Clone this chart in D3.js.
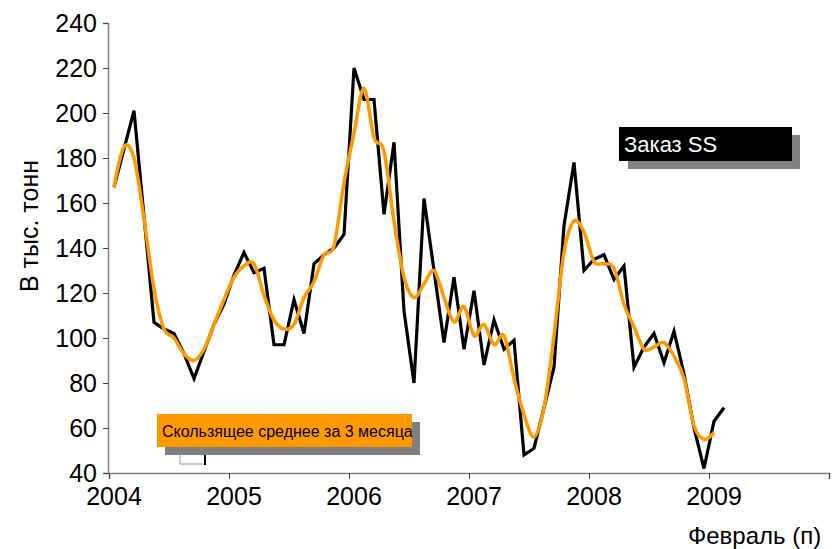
<!DOCTYPE html>
<html>
<head>
<meta charset="utf-8">
<script src="https://cdn.jsdelivr.net/npm/d3@7"></script>
<style>
  body { margin: 0; background: #fff; }
  svg { display: block; font-family: "Liberation Sans", Arial, sans-serif; }
</style>
</head>
<body>
<div id="chart"></div>
<script>
// monthly orders, Jan 2004 .. Feb 2009
const startYear = 2004;
const orders = [
  167, 184, 201, 154, 107, 104, 102, 93, 82, 94, 106, 115,
  128, 138, 129, 131, 97, 97, 117, 102, 133, 137, 140, 146,
  220, 206, 206, 155, 187, 112, 80, 162, 130, 98, 127, 95,
  121, 88, 108, 95, 99, 48, 51, 69, 87, 150, 178, 130,
  135, 137, 126, 132, 87, 96, 102, 89, 103, 84, 60, 42,
  63, 69
];
// 3-month moving average, Jan 2004 .. Jan 2009
const movingAvg = [
  167, 185, 180, 153, 122, 104, 100, 93, 90, 95, 106, 117,
  127, 132, 133, 119, 108, 104, 106, 118, 125, 137, 141, 169,
  191, 211, 189, 183, 152, 127, 118, 124, 130, 118, 107, 114,
  101, 106, 97, 101, 82, 66, 56, 69, 101, 138, 152, 147,
  134, 133, 131, 115, 105, 95, 96, 98, 92, 82, 61, 55,
  58
];
const yearTicks = [2004, 2005, 2006, 2007, 2008, 2009, 2010];
const yearLabels = ['2004', '2005', '2006', '2007', '2008', '2009'];
const yTicks = [40, 60, 80, 100, 120, 140, 160, 180, 200, 220, 240];

const width = 836;
const height = 549;

const x = d3.scaleLinear().domain([2004, 2010]).range([109, 829]);
const y = d3.scaleLinear().domain([40, 240]).range([473, 23]);
const monthPos = i => x(startYear + (i + 0.5) / 12);

const svg = d3.select('#chart').append('svg')
  .attr('width', width)
  .attr('height', height);

// axes
const yAxis = svg.append('g')
  .attr('transform', 'translate(108,0)')
  .call(d3.axisLeft(y).tickValues(yTicks).tickSize(5).tickPadding(6));
yAxis.select('.domain').attr('stroke', '#808080').attr('stroke-width', 1.5);
yAxis.selectAll('.tick line').attr('stroke', '#404040');
yAxis.selectAll('.tick text')
  .attr('fill', '#000')
  .style('font-size', '25px');

const xAxis = svg.append('g')
  .attr('transform', 'translate(0,473)')
  .call(d3.axisBottom(x).tickValues(yearTicks).tickSize(6).tickFormat(''));
xAxis.select('.domain').attr('stroke', '#808080').attr('stroke-width', 1.5);
xAxis.selectAll('.tick line').attr('stroke', '#404040');

svg.append('g').selectAll('text')
  .data(yearLabels)
  .enter().append('text')
  .attr('x', d => x(+d + 0.5 / 12))
  .attr('y', 505)
  .attr('text-anchor', 'middle')
  .style('font-size', '25px')
  .text(d => d);

svg.append('text')
  .attr('x', 688)
  .attr('y', 544)
  .style('font-size', '24px')
  .text('Февраль (п)');

svg.append('text')
  .attr('transform', 'translate(38,226) rotate(-90)')
  .attr('text-anchor', 'middle')
  .style('font-size', '25px')
  .text('В тыс. тонн');

// lines
const orderLine = d3.line()
  .x((d, i) => monthPos(i))
  .y(d => y(d));

const avgLine = d3.line()
  .x((d, i) => monthPos(i))
  .y(d => y(d))
  .curve(d3.curveCardinal.tension(0));

svg.append('path')
  .datum(orders)
  .attr('fill', 'none')
  .attr('stroke', '#000')
  .attr('stroke-width', 3.2)
  .attr('stroke-linejoin', 'miter')
  .attr('d', orderLine);

svg.append('path')
  .datum(movingAvg)
  .attr('fill', 'none')
  .attr('stroke', '#ff9900')
  .attr('stroke-width', 3.5)
  .attr('d', avgLine);

// legend: moving average
svg.append('rect')
  .attr('x', 180).attr('y', 452).attr('width', 25).attr('height', 12)
  .attr('fill', '#fff').attr('stroke', '#999');
svg.append('line')
  .attr('x1', 205).attr('y1', 452).attr('x2', 205).attr('y2', 465)
  .attr('stroke', '#000').attr('stroke-width', 2);
svg.append('rect')
  .attr('x', 165).attr('y', 422).attr('width', 255).attr('height', 33)
  .attr('fill', '#808080');
svg.append('rect')
  .attr('x', 157).attr('y', 414).attr('width', 255).attr('height', 33)
  .attr('fill', '#ff9900');
svg.append('text')
  .attr('x', 162).attr('y', 437)
  .style('font-size', '16px')
  .text('Скользящее среднее за 3 месяца');

// legend: orders
svg.append('rect')
  .attr('x', 628).attr('y', 135).attr('width', 172).attr('height', 34)
  .attr('fill', '#808080');
svg.append('rect')
  .attr('x', 619).attr('y', 127).attr('width', 173).attr('height', 34)
  .attr('fill', '#000');
svg.append('text')
  .attr('x', 624).attr('y', 152)
  .attr('fill', '#fff')
  .style('font-size', '22px')
  .text('Заказ SS');
svg.append('text')
  .attr('x', 628).attr('y', 182)
  .attr('fill', '#fff')
  .style('font-size', '21px')
  .text('нетто');
</script>
</body>
</html>
